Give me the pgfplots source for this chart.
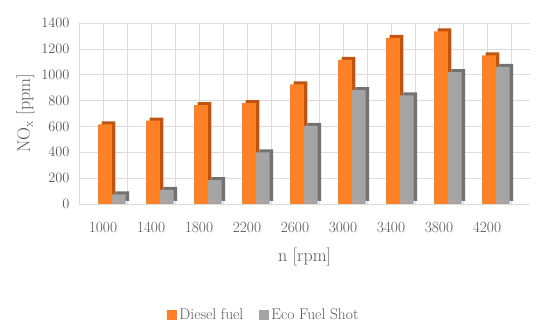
\documentclass[border=0pt]{standalone}
\usepackage{pgfplots}
\pgfplotsset{compat=1.18}
\definecolor{dorange}{HTML}{FF8025}
\definecolor{dorangeS}{HTML}{C2540F}
\definecolor{egray}{HTML}{A5A5A5}
\definecolor{egrayS}{HTML}{727272}
\definecolor{txt}{HTML}{595959}
\definecolor{gridc}{HTML}{DCDCDC}
\pgfplotstableread{
x diesel eco
0 615 75
1 645 110
2 765 185
3 780 400
4 925 605
5 1115 880
6 1285 840
7 1335 1020
8 1150 1060
}\datatab
\begin{document}
\begin{tikzpicture}
\path[use as bounding box] (-79pt,-125pt) rectangle (471pt,204pt);
\begin{axis}[
  at={(0,0)}, anchor=south west,
  scale only axis,
  width=451.2pt, height=181pt,
  xmin=-0.5, xmax=8.9,
  ymin=0, ymax=1400,
  ytick={0,200,...,1400},
  /pgf/number format/1000 sep={},
  xtick={0,...,8},
  xticklabels={1000,1400,1800,2200,2600,3000,3400,3800,4200},
  minor xtick={-0.5,0.5,...,8.5},
  xmajorgrids, xminorgrids, ymajorgrids,
  grid style={gridc, line width=0.6pt},
  minor grid style={gridc, line width=0.6pt},
  axis line style={draw=none},
  major tick length=0pt, minor tick length=0pt,
  tick label style={font=\fontsize{15.5}{17}\selectfont, text=txt},
  yticklabel style={xshift=-6pt},
  xticklabel style={yshift=-15pt},
  xlabel={n [rpm]},
  ylabel={NO$_\mathrm{x}$ [ppm]},
  label style={font=\fontsize{18}{20}\selectfont, text=txt},
  xlabel style={yshift=-8pt},
  ylabel style={yshift=0pt},
  ybar, bar width=13.7pt,
  legend style={at={(0.41,-0.613)}, anchor=center, draw=none, fill=none,
    legend columns=2, font=\fontsize{15.5}{17}\selectfont, text=txt,
    /tikz/every even column/.append style={column sep=14pt}},
  legend image code/.code={\fill[#1] (0pt,-5pt) rectangle (10pt,5pt);},
]
\addplot[fill=dorangeS, draw=none, bar shift=5.5pt, yshift=3pt, forget plot] table[x=x,y=diesel]{\datatab};
\addplot[fill=dorange, draw=none, bar shift=2pt] table[x=x,y=diesel]{\datatab};
\addplot[fill=egrayS, draw=none, bar shift=19.2pt, yshift=3pt, forget plot] table[x=x,y=eco]{\datatab};
\addplot[fill=egray, draw=none, bar shift=15.7pt] table[x=x,y=eco]{\datatab};
\legend{Diesel fuel, Eco Fuel Shot}
\end{axis}
\end{tikzpicture}
\end{document}
